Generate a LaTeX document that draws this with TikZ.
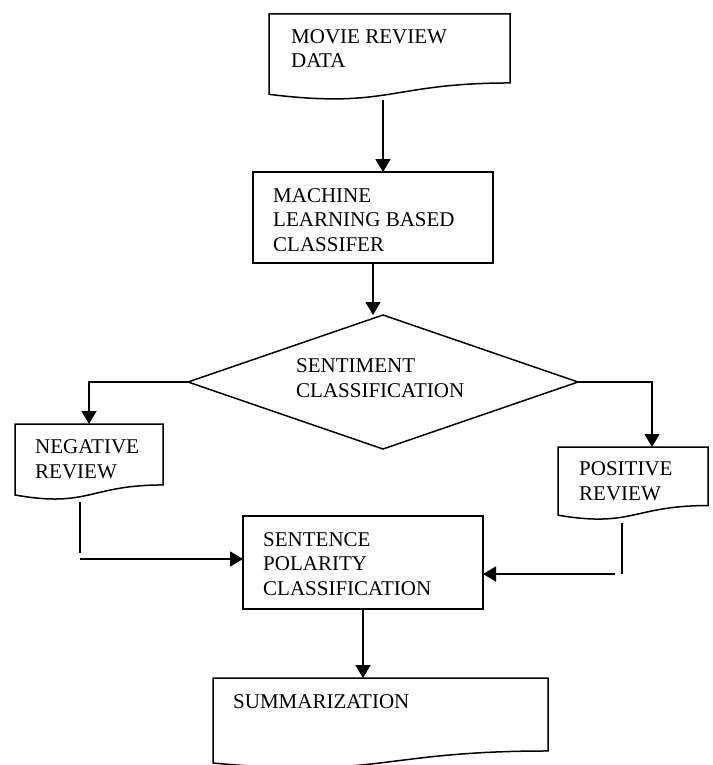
\documentclass[tikz,border=0pt]{standalone}
\usepackage{fontspec}
\setmainfont{Liberation Serif}
\usetikzlibrary{arrows.meta,calc}
\tikzset{
  lbl/.style={inner sep=0pt, anchor=base west, align=left,
    font=\fontsize{21}{24.5}\selectfont},
  edge/.style={line width=1.5pt, black},
  arr/.style={edge, -{Triangle[length=13pt,width=15pt]}},
  holder/.style={draw=none, inner sep=0pt, outer sep=0pt},
  procbox/.style={draw, line width=1.5pt, inner sep=0pt, outer sep=0pt},
}
\newcommand\docoutline[1]{%
  \draw[edge, line join=miter] (#1.north west) -- (#1.north east)
    -- ($(#1.north east)!0.802!(#1.south east)$)
    .. controls ($(#1.north)!0.802!(#1.south)$) and ($(#1.north)!1.107!(#1.south)$)
    .. ($(#1.north west)!0.934!(#1.south west)$) -- cycle;}
\begin{document}
\begin{tikzpicture}[x=1pt,y=-1pt]
\useasboundingbox (0,0) rectangle (712,765);

% shapes
\node[holder, minimum width=241pt, minimum height=86pt] (movie) at (389.5,57) {};
\docoutline{movie}
\node[procbox, minimum width=240pt, minimum height=91pt] (machine) at (373,217.5) {};
\node[holder, minimum width=390pt, minimum height=134pt] (senti) at (383,382) {};
\draw[edge] (senti.north) -- (senti.east) -- (senti.south) -- (senti.west) -- cycle;
\node[holder, minimum width=148pt, minimum height=76pt] (neg) at (89,462) {};
\docoutline{neg}
\node[holder, minimum width=150pt, minimum height=73pt] (pos) at (633,483.5) {};
\docoutline{pos}
\node[procbox, minimum width=240pt, minimum height=93pt] (sent) at (363,562.5) {};
\node[holder, minimum width=335pt, minimum height=91pt] (summ) at (380.5,723.5) {};
\docoutline{summ}

% texts (anchored at the baseline of the last line)
\node[lbl] (tmovie) at (291,68) {MOVIE REVIEW\\DATA};
\node[lbl] (tmachine) at (273,251) {MACHINE\\LEARNING BASED\\CLASSIFER};
\node[lbl] (tsenti) at (296,397) {SENTIMENT\\CLASSIFICATION};
\node[lbl] (tneg) at (35,478) {NEGATIVE\\REVIEW};
\node[lbl] (tpos) at (579,500) {POSITIVE\\REVIEW};
\node[lbl] (tsent) at (263,595) {SENTENCE\\POLARITY\\CLASSIFICATION};
\node[lbl] (tsumm) at (233,708) {SUMMARIZATION};

% connectors
\draw[arr] ([xshift=-6.5pt]movie.south) -- ([xshift=-6.5pt]movie.south |- machine.north);
\draw[arr] (machine.south) -- (machine.south |- senti.north);
\draw[arr] (senti.west) -| (neg.north);
\draw[arr] (senti.east) -| ([xshift=19pt]pos.north);
\coordinate (n1) at (80,553);
\coordinate (n2) at (80,559);
\draw[edge] ([yshift=-2pt]neg.south -| n1) -- (n1);
\draw[arr] (n2) -- (n2 -| sent.west);
\coordinate (p1) at (622,574);
\coordinate (p2) at (615,574);
\draw[edge] ([yshift=-3pt]pos.south -| p1) -- (p1);
\draw[arr] (p2) -- (p2 -| sent.east);
\draw[arr] (sent.south) -- (sent.south |- summ.north);
\end{tikzpicture}
\end{document}
